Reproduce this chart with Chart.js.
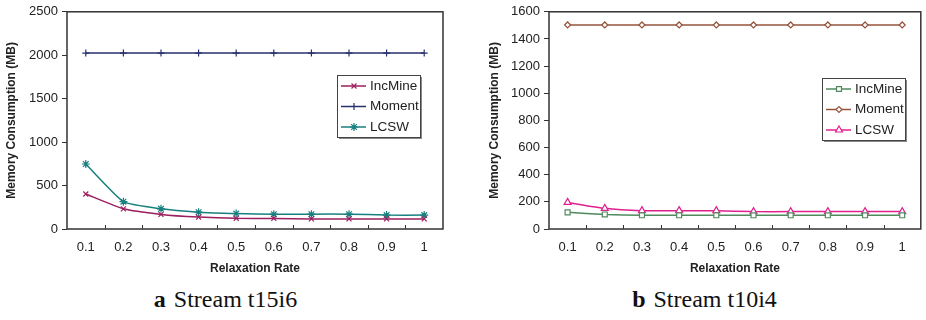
<!DOCTYPE html>
<html lang="en">
<head>
<meta charset="UTF-8" />
<title>Memory Consumption vs Relaxation Rate</title>
<style>
  body{margin:0;padding:0;background:#fff;width:926px;height:320px;overflow:hidden;position:relative;font-family:"Liberation Sans",Arial,sans-serif;}
  .panel{position:absolute;top:0;width:463px;height:320px;}
  .panel canvas{position:absolute;left:0;top:0;}
  .cap{position:absolute;top:286px;left:0;width:463px;text-align:center;font-family:"Liberation Serif","Times New Roman",serif;font-size:24px;color:#111;}
  .cap b{margin-right:8px;}
</style>
<script src="https://cdn.jsdelivr.net/npm/chart.js"></script>
</head>
<body>
<div class="panel" style="left:0"><canvas id="chartA" width="463" height="280"></canvas>
  <div class="cap" style="left:-6px"><b>a</b>Stream t15i6</div></div>
<div class="panel" style="left:463px"><canvas id="chartB" width="463" height="280"></canvas>
  <div class="cap" style="left:10px"><b>b</b>Stream t10i4</div></div>

<script>
/* ====== data ====== */
const rates = ['0.1','0.2','0.3','0.4','0.5','0.6','0.7','0.8','0.9','1'];

// (a) Stream t15i6
const incMineA = [403, 232, 168, 137, 123, 122, 116, 116, 116, 116];
const momentA  = [2025,2025,2025,2025,2025,2025,2025,2025,2025,2025];
const lcswA    = [748, 315, 232, 194, 178, 171, 171, 171, 160, 160];

// (b) Stream t10i4
const incMineB = [123, 107, 101, 101, 101, 101, 101, 101, 101, 101];
const momentB  = [1503,1503,1503,1503,1503,1503,1503,1503,1503,1503];
const lcswB    = [196, 152, 135, 135, 135, 128, 128, 128, 128, 128];

const seriesNames = ['IncMine','Moment','LCSW'];

Chart.defaults.font.family = '"Liberation Sans", Arial, sans-serif';
Chart.defaults.color = '#222';

/* ====== frame + inward x ticks + boxed legend ====== */
const framePlugin = {
  id:'frame',
  afterDraw(chart, args, opts){
    const {ctx, chartArea:a} = chart;
    const xs = chart.scales.x;
    ctx.save();
    // plot box
    ctx.strokeStyle = '#333'; ctx.lineWidth = 1.5;
    ctx.strokeRect(a.left, a.top, a.right - a.left, a.bottom - a.top);
    // x tick marks between categories, pointing up
    ctx.lineWidth = 1;
    for(let i=0;i<xs.ticks.length-1;i++){
      const x = Math.round((xs.getPixelForTick(i)+xs.getPixelForTick(i+1))/2)+0.5;
      ctx.beginPath(); ctx.moveTo(x, a.bottom); ctx.lineTo(x, a.bottom-4); ctx.stroke();
    }
    // legend
    const L = opts.box;
    ctx.fillStyle = '#888';
    ctx.fillRect(L.x+2, L.y+2, L.w, L.h);
    ctx.fillStyle = '#fff';
    ctx.fillRect(L.x, L.y, L.w, L.h);
    ctx.strokeStyle = '#444'; ctx.lineWidth = 1;
    ctx.strokeRect(L.x+0.5, L.y+0.5, L.w, L.h);
    ctx.font = '13.5px "Liberation Sans", Arial, sans-serif';
    ctx.textBaseline = 'middle';
    chart.data.datasets.forEach((ds, i) => {
      const y = L.y + 11 + i*20.5;
      ctx.strokeStyle = ds.borderColor; ctx.lineWidth = 1.5;
      ctx.beginPath(); ctx.moveTo(L.x+4, y); ctx.lineTo(L.x+29, y); ctx.stroke();
      ctx.fillStyle = '#fff'; ctx.lineWidth = 1.2;
      Chart.helpers.drawPoint(ctx, {pointStyle: ds.pointStyle, radius: ds.pointRadius, borderWidth: 1.2}, L.x+17, y);
      ctx.fillStyle = '#222';
      ctx.fillText(seriesNames[i], L.x+33, y);
    });
    ctx.restore();
  }
};

function makeChart(id, sets, yMax, yStep, padLeft, yWidth, box){
  return new Chart(document.getElementById(id), {
    type:'line',
    data:{labels:rates, datasets: sets.map((s,i)=>({
      label: seriesNames[i], data: s.data,
      borderColor: s.color, backgroundColor: '#fff',
      borderWidth: 1.5, pointStyle: s.style, pointRadius: s.r,
      pointBorderWidth: 1.2, pointBorderColor: s.color, pointBackgroundColor: '#fff',
      tension: 0.15
    }))},
    options:{
      responsive:false, animation:false,
      layout:{padding:{left:padLeft, top:10, right: id==='chartA' ? 20 : 1, bottom:0}},
      plugins:{legend:{display:false}, tooltip:{enabled:false}, frame:{box}},
      scales:{
        x:{
          offset:true,
          grid:{display:false, drawTicks:false},
          border:{display:false},
          ticks:{font:{size:13}, padding:11, maxRotation:0},
          title:{display:true, text:'Relaxation Rate', font:{size:12, weight:'bold'}, padding:{top:6}},
          afterFit(s){ s.height = 51; }
        },
        y:{
          min:0, max:yMax,
          grid:{drawOnChartArea:false, tickLength:5, color:'#333'},
          border:{display:false},
          ticks:{stepSize:yStep, font:{size:13}, padding:4, callback:v => String(v)},
          title:{display:true, text:'Memory Consumption (MB)', font:{size:12, weight:'bold'}, padding:{top:4, bottom:0}},
          afterFit(s){ s.width = yWidth; }
        }
      }
    },
    plugins:[framePlugin]
  });
}

makeChart('chartA', [
  {data:incMineA, color:'#9b1f5f', style:'crossRot', r:3.5},
  {data:momentA,  color:'#27306b', style:'cross',    r:3.5},
  {data:lcswA,    color:'#17807f', style:'star',     r:4}
], 2500, 500, 0, 67, {x:337, y:75, w:83, h:62});

makeChart('chartB', [
  {data:incMineB, color:'#4f8a5e', style:'rect',    r:3.5},
  {data:momentB,  color:'#95533c', style:'rectRot', r:3},
  {data:lcswB,    color:'#e0208f', style:'triangle',r:4}
], 1600, 200, 20, 66, {x:359, y:78, w:83, h:62});
</script>
</body>
</html>
